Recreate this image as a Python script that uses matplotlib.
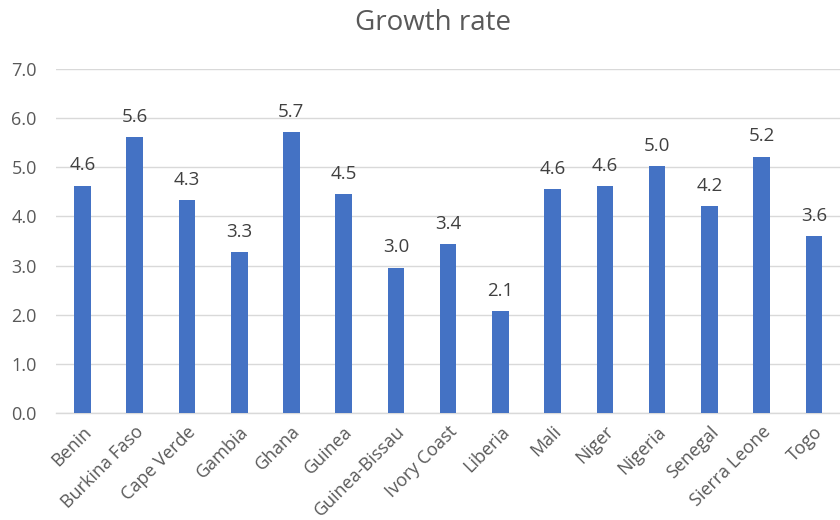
import matplotlib
matplotlib.use('Agg')
import matplotlib.pyplot as plt
import numpy as np

countries = ['Benin', 'Burkina Faso', 'Cape Verde', 'Gambia', 'Ghana', 'Guinea',
             'Guinea-Bissau', 'Ivory Coast', 'Liberia', 'Mali', 'Niger', 'Nigeria',
             'Senegal', 'Sierra Leone', 'Togo']
growth = [4.63, 5.61, 4.33, 3.27, 5.72, 4.45, 2.96, 3.43, 2.07, 4.56, 4.62, 5.03, 4.21, 5.22, 3.61]
yticks = [0.0, 1.0, 2.0, 3.0, 4.0, 5.0, 6.0, 7.0]

plt.rcParams['font.family'] = ['Open Sans', 'DejaVu Sans']
text_col = '#595959'

fig = plt.figure(figsize=(8.4, 5.2), dpi=100)
ax = fig.add_axes([0.067, 0.206, 0.933, 0.661])

x = np.arange(len(countries))
ax.bar(x, growth, width=0.32, color='#4472C4', zorder=3)

for xi, v in zip(x, growth):
    ax.annotate('%.1f' % v, (xi, v), xytext=(0, 8), textcoords='offset points',
                ha='center', va='bottom', fontsize=13.5, color='#404040')

ax.set_xlim(-0.5, len(countries) - 0.5)
ax.set_ylim(0, 7)
ax.set_yticks(yticks)
ax.set_yticklabels(['%.1f' % t for t in yticks])
ax.set_xticks(x)
ax.set_xticklabels(countries, rotation=45, ha='right', rotation_mode='anchor')
ax.tick_params(axis='both', length=0, labelsize=13, labelcolor=text_col)
ax.tick_params(axis='y', pad=14)
ax.tick_params(axis='x', pad=7)

ax.grid(axis='y', color='#D9D9D9', linewidth=1, zorder=0)
for s in ['top', 'right', 'left']:
    ax.spines[s].set_visible(False)
ax.spines['bottom'].set_color('#D9D9D9')
ax.spines['bottom'].set_linewidth(1)

fig.text(0.515, 0.955, 'Growth rate', ha='center', va='center', fontsize=20, color=text_col)

fig.savefig('out.png', dpi=100)
